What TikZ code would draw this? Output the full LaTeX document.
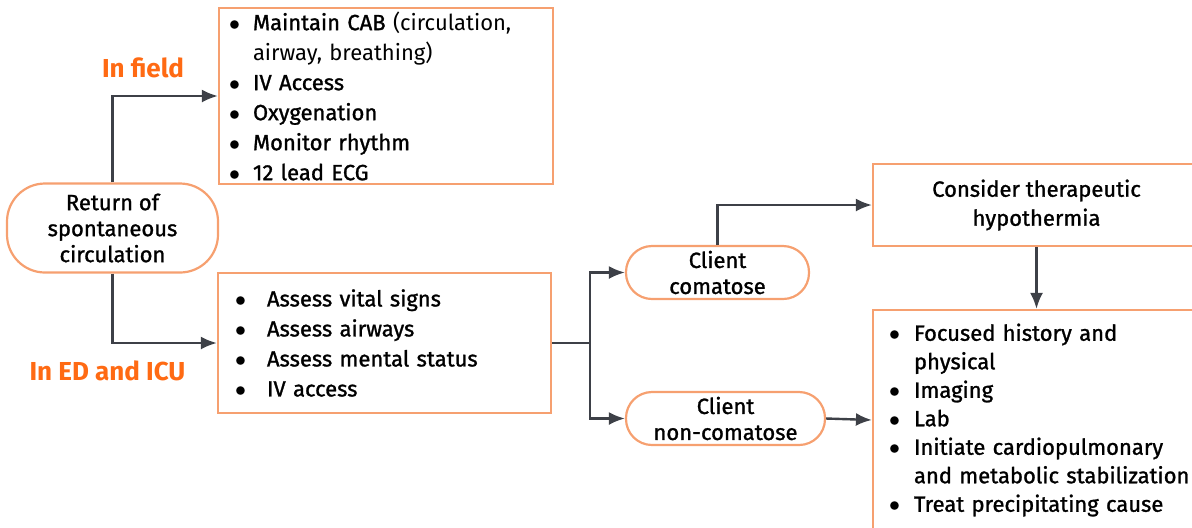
\documentclass[tikz,border=0pt]{standalone}
\usepackage{fontspec}
\setmainfont{Fira Sans}[UprightFeatures={FakeBold=1.2}]
\newfontfamily\lightfont{Fira Sans}
\usetikzlibrary{arrows.meta}

\definecolor{boxorange}{HTML}{F6A070}
\definecolor{labelorange}{HTML}{FF6A13}
\definecolor{linegray}{HTML}{3D4047}

% bullet of a given width, then the item text; \indl indents a follow-on line
\newcommand{\bitem}[2]{\mbox{\makebox[#1][l]{$\bullet$}#2}}
\newcommand{\indl}[2]{\mbox{\hspace*{#1}#2}}

\begin{document}
\begin{tikzpicture}[x=0.5pt, y=-0.5pt, >={Latex[length=8pt,width=6.5pt]},
    flow/.style={->, draw=linegray, line width=1.2pt},
    listbox/.style={draw=boxorange, line width=1.1pt, align=left, inner ysep=0pt},
    pill/.style={draw=boxorange, line width=1.1pt, align=center, inner sep=0pt,
        font=\fontsize{11}{13}\selectfont},
    place/.style={font=\fontsize{13}{15}\selectfont\bfseries, text=labelorange}]

    \useasboundingbox (0,0) rectangle (1192,527);
    \clip (0,0) rectangle (1192,527);

    % start
    \node[pill, minimum width=105.5pt, minimum height=44.5pt, rounded corners=19pt]
        (rosc) at (112.5,228) {Return of\\spontaneous\\circulation};

    % the two settings
    \node[listbox, minimum height=88pt, text width=157pt, inner xsep=5pt,
        font=\fontsize{11}{15}\selectfont] (field) at (386,96)
        {\bitem{12pt}{Maintain CAB {\lightfont (circulation,}}\\
         \indl{12pt}{\lightfont airway, breathing)}\\
         \bitem{12pt}{IV Access}\\
         \bitem{12pt}{Oxygenation}\\
         \bitem{12pt}{Monitor rhythm}\\
         \bitem{12pt}{12 lead ECG}};
    \node[listbox, minimum height=70pt, text width=149.5pt, inner xsep=8.5pt,
        font=\fontsize{11}{15}\selectfont] (edicu) at (384.5,343)
        {\bitem{16pt}{Assess vital signs}\\
         \bitem{16pt}{Assess airways}\\
         \bitem{16pt}{Assess mental status}\\
         \bitem{16pt}{IV access}};

    \node[place] (infield) at (143,68) {In field};
    \node[place] (ined) at (107.5,371) {In ED and ICU};

    % client state
    \node[pill, minimum width=91.5pt, minimum height=26.5pt, rounded corners=13pt]
        (coma) at (717.5,272.5) {Client\\comatose};
    \node[pill, minimum width=99.5pt, minimum height=26.5pt, rounded corners=13pt]
        (noncoma) at (725.5,418.5) {Client\\non-comatose};

    \node[listbox, minimum width=163.5pt, minimum height=41pt, align=center,
        font=\fontsize{11}{14.5}\selectfont] (thermia) at (1036.5,205)
        {Consider therapeutic\\hypothermia};
    \node[listbox, minimum height=110pt, text width=147.5pt, inner xsep=8pt,
        font=\fontsize{11}{14.25}\selectfont] (focus) at (1036.5,420)
        {\bitem{12.5pt}{Focused history and}\\
         \indl{12.5pt}{physical}\\
         \bitem{12.5pt}{Imaging}\\
         \bitem{12.5pt}{Lab}\\
         \bitem{12.5pt}{Initiate cardiopulmonary}\\
         \indl{12.5pt}{and metabolic stabilization}\\
         \bitem{12.5pt}{Treat precipitating cause}};

    % connectors
    \coordinate (split) at (590,343);
    \draw[flow] (rosc.north) |- (field.west);
    \draw[flow] (rosc.south) |- (edicu.west);
    \draw[flow] (edicu.east) -- (split) |- (coma.west);
    \draw[flow] (split) |- (noncoma.west);
    \draw[flow] (coma.north) |- (thermia.west);
    \draw[flow] (thermia.south) -- (focus.north);
    \draw[flow] (noncoma.east) -- (focus.west);
\end{tikzpicture}
\end{document}
